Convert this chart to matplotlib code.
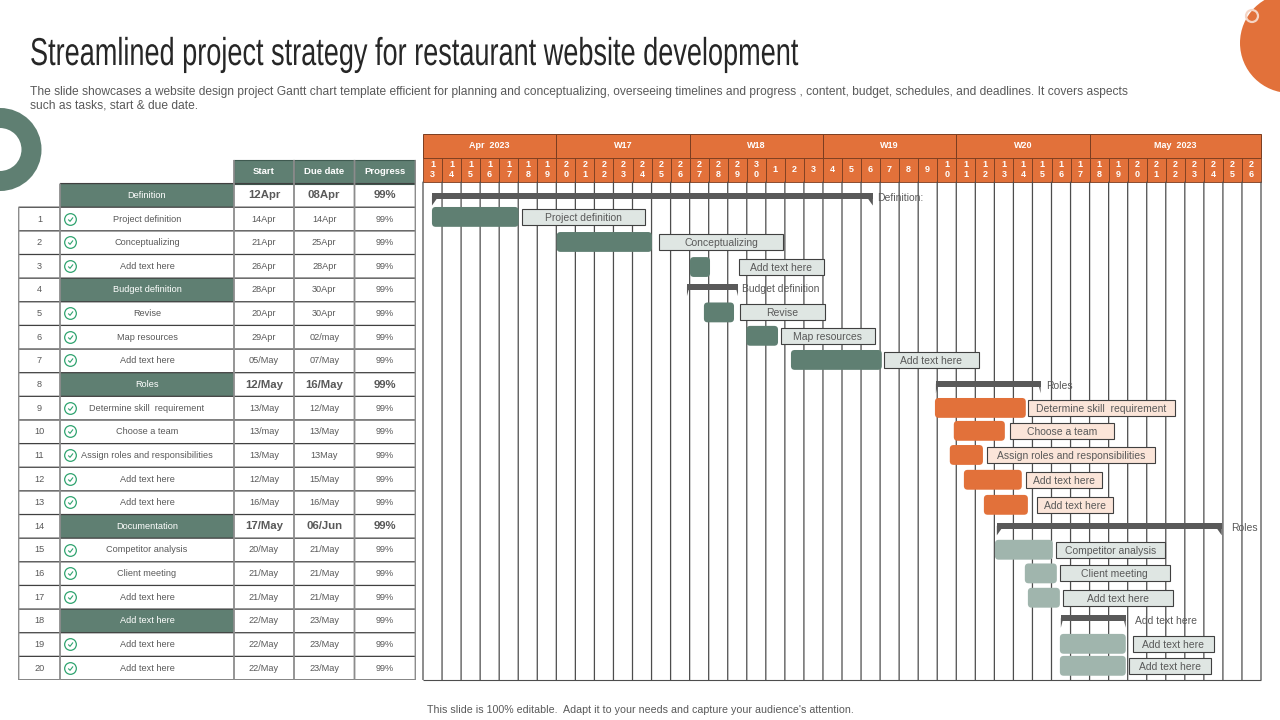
import matplotlib
matplotlib.use("Agg")
import matplotlib.pyplot as plt
from matplotlib.patches import Circle, FancyBboxPatch, Rectangle
from matplotlib.path import Path
from matplotlib.patheffects import AbstractPathEffect
from matplotlib.transforms import Affine2D

plt.rcParams['font.family'] = ['Liberation Sans', 'DejaVu Sans']

# table data
row_names = ["Definition", "Project definition", "Conceptualizing", "Add text here", "Budget definition",
             "Revise", "Map resources", "Add text here", "Roles", "Determine skill  requirement",
             "Choose a team", "Assign roles and responsibilities", "Add text here", "Add text here",
             "Documentation", "Competitor analysis", "Client meeting", "Add text here", "Add text here",
             "Add text here", "Add text here"]
row_start = ["12Apr", "14Apr", "21Apr", "26Apr", "28Apr", "20Apr", "29Apr", "05/May", "12/May", "13/May", "13/may",
             "13/May", "12/May", "16/May", "17/May", "20/May", "21/May", "21/May", "22/May", "22/May", "22/May"]
row_due = ["08Apr", "14Apr", "25Apr", "28Apr", "30Apr", "30Apr", "02/may", "07/May", "16/May", "12/May", "13/May",
           "13May", "15/May", "16/May", "06/Jun", "21/May", "21/May", "21/May", "23/May", "23/May", "23/May"]
row_progress = ["99%"] * 21
section_rows = [0, 4, 8, 14, 18]
bold_rows = [0, 8, 14]
table_heads = ["Start", "Due date", "Progress"]

# gantt header
period_names = ["Apr  2023", "W17", "W18", "W19", "W20", "May  2023"]
period_days = [7, 7, 7, 7, 7, 9]
day_labels = [13, 14, 15, 16, 17, 18, 19, 20, 21, 22, 23, 24, 25, 26, 27, 28, 29, 30,
              1, 2, 3, 4, 5, 6, 7, 8, 9, 10, 11, 12, 13, 14, 15, 16, 17, 18, 19, 20, 21, 22, 23, 24, 25, 26]

# gantt tasks, in days after 13 Apr
task_names = row_names[1:4] + row_names[5:8] + row_names[9:14] + row_names[15:18] + row_names[19:21]
task_begin = [0.47, 7.02, 14.02, 14.75, 16.98, 19.32, 26.88, 27.87, 27.66, 28.40, 29.45, 30.03, 31.60, 31.76, 33.44, 33.44]
task_end = [5.02, 12.02, 15.07, 16.33, 18.64, 24.09, 31.65, 30.55, 29.40, 31.44, 31.76, 33.07, 33.28, 33.44, 36.90, 36.90]
task_rows = [1.41, 2.47, 3.53, 5.45, 6.44, 7.46, 9.49, 10.46, 11.48, 12.53, 13.59, 15.49, 16.49, 17.52, 19.47, 20.40]
box_begin = [5.20, 12.39, 16.59, 16.64, 18.79, 24.20, 31.76, 30.81, 29.61, 31.65, 32.23, 33.23, 33.44, 33.60, 37.27, 37.06]
box_end = [11.65, 18.90, 21.05, 21.10, 23.73, 29.19, 39.48, 36.26, 38.43, 35.64, 36.22, 38.95, 39.21, 39.37, 41.52, 41.36]

# summary brackets
bracket_names = ["Definition:", "Budget definition", "Roles", "Roles", "Add text here"]
bracket_begin = [0.47, 13.86, 26.93, 30.13, 33.49]
bracket_end = [23.62, 16.54, 32.43, 41.94, 36.90]
bracket_rows = [0.53, 4.36, 8.47, 14.48, 18.39]
bracket_text = [23.83, 16.75, 32.70, 42.41, 37.40]

ORANGE = "#E2713A"
GREEN = "#5F7F72"
PALE_GREEN = "#A0B5AD"
GREY_TEXT = "#595959"
task_colors = [GREEN] * 6 + [ORANGE] * 5 + [PALE_GREEN] * 5
box_colors = ["#DFE6E3"] * 6 + ["#FBE5D9"] * 5 + ["#DFE6E3"] * 5


class Squeeze(AbstractPathEffect):
    # no condensed font is installed, so narrow the title glyphs around its left edge
    def __init__(self, factor, x_px):
        super().__init__()
        self.factor = factor
        self.x_px = x_px

    def draw_path(self, renderer, gc, tpath, affine, rgbFace=None):
        squeeze = Affine2D().translate(-self.x_px, 0).scale(self.factor, 1).translate(self.x_px, 0)
        renderer.draw_path(gc, tpath, affine + squeeze, rgbFace)


fig = plt.figure(figsize=(12.8, 7.2), dpi=100)

# page background, title and corner shapes
page = fig.add_axes([0, 0, 1, 1])
page.set_xlim(0, 1280)
page.set_ylim(720, 0)
page.axis("off")
page.add_patch(Circle((1290, 43), 50, color=ORANGE, lw=0))
page.add_patch(Circle((1252, 16), 6, fc="none", ec="#F5D5C5", lw=1.6))
page.add_patch(Circle((0, 149.5), 31.5, fc="none", ec=GREEN, lw=14.4))
page.text(30, 65, "Streamlined project strategy for restaurant website development",
          fontsize=28, color="#262626", path_effects=[Squeeze(0.697, 30)])
page.text(30, 92, "The slide showcases a website design project Gantt chart template efficient for planning and conceptualizing, "
          "overseeing timelines and progress , content, budget, schedules, and deadlines. It covers aspects",
          fontsize=8.65, color=GREY_TEXT, va="center")
page.text(30, 106, "such as tasks, start & due date.", fontsize=8.65, color=GREY_TEXT, va="center")
page.text(640, 710, "This slide is 100% editable.  Adapt it to your needs and capture your audience's attention.",
          fontsize=7.65, color=GREY_TEXT, ha="center", va="center")

# the table and the gantt share the same row scale
top_row = -2.097
bottom_row = 21
tbl = fig.add_axes([18 / 1280, 1 - 680 / 720, 398 / 1280, 546 / 720])
tbl.set_xlim(18, 416)
tbl.set_ylim(bottom_row, top_row)
tbl.axis("off")
col_edges = [18.5, 60, 234, 294, 354.5, 415.5]

for col, head in enumerate(table_heads):
    tbl.add_patch(Rectangle((col_edges[col + 2], -1), col_edges[col + 3] - col_edges[col + 2], 1, fc=GREEN, ec="#3F5A50", lw=0.8))
    tbl.text((col_edges[col + 2] + col_edges[col + 3]) / 2, -0.5, head, color="white", fontsize=6.8, fontweight="bold", ha="center", va="center")

for row, name in enumerate(row_names):
    mid = row + 0.5
    if row in section_rows:
        tbl.add_patch(Rectangle((col_edges[1], row), col_edges[2] - col_edges[1], 1, fc=GREEN, lw=0, zorder=1))
        tbl.text(147, mid, name, color="white", fontsize=6.6, ha="center", va="center", zorder=4)
    else:
        tbl.text(147, mid, name, color=GREY_TEXT, fontsize=6.6, ha="center", va="center", zorder=4)
    if row > 0:
        tbl.text(39.5, mid, str(row), color=GREY_TEXT, fontsize=6.6, ha="center", va="center")
    weight = "bold" if row in bold_rows else "normal"
    size = 8.2 if row in bold_rows else 6.6
    for col, val in enumerate([row_start[row], row_due[row], row_progress[row]]):
        tbl.text((col_edges[col + 2] + col_edges[col + 3]) / 2, mid, val, color=GREY_TEXT, fontsize=size,
                 fontweight=weight, ha="center", va="center")

tick_marker = Path([(-0.5, 0.0), (-0.1, -0.4), (0.55, 0.45)], [Path.MOVETO, Path.LINETO, Path.LINETO])
check_rows = [row + 0.48 for row in range(1, 21) if row not in section_rows]
tbl.plot([70.5] * len(check_rows), check_rows, ls="none", marker="o", ms=8.4, mfc="none", mec="#2FA36F", mew=0.9, zorder=4)
tbl.plot([70.5] * len(check_rows), check_rows, ls="none", marker=tick_marker, ms=3.6, mfc="none", mec="#2FA36F", mew=0.8, zorder=4)

tbl.hlines(range(1, 22), col_edges[0], col_edges[-1], color="#404040", lw=0.9, zorder=2).set_snap(False)
tbl.hlines(0, col_edges[1], col_edges[-1], color="#404040", lw=0.9, zorder=2).set_snap(False)
for idx, edge in enumerate(col_edges):
    first = 1 if idx == 0 else (0 if idx == 1 else -1)
    tbl.vlines(edge, first, bottom_row, color="#8C8C8C", lw=1.3, zorder=3).set_snap(False)

# gantt
ax = fig.add_axes([423 / 1280, 1 - 680 / 720, 838 / 1280, 546 / 720])
ax.set_xlim(0, len(day_labels))
ax.set_ylim(bottom_row, top_row)
ax.axis("off")

# header
month_line = -1.10
head_bottom = -0.08
left = 0
for name, days in zip(period_names, period_days):
    ax.add_patch(Rectangle((left, top_row), days, month_line - top_row, fc=ORANGE, ec="#7A3D20", lw=0.7, clip_on=False))
    ax.text(left + days / 2, (top_row + month_line) / 2, name, color="white", fontsize=6.5, fontweight="bold", ha="center", va="center")
    left += days
for pos, day in enumerate(day_labels):
    ax.add_patch(Rectangle((pos, month_line), 1, head_bottom - month_line, fc=ORANGE, ec="#7A3D20", lw=0.6, clip_on=False))
    ax.text(pos + 0.5, (month_line + head_bottom) / 2, "\n".join(str(day)), color="white", fontsize=6.5, fontweight="bold",
            ha="center", va="center", linespacing=1.15)

# day columns
grid = ax.vlines(range(len(day_labels) + 1), head_bottom, bottom_row, color="#4D4D4D", lw=0.9, zorder=1)
grid.set_snap(False)
grid.set_clip_on(False)
ax.hlines(bottom_row, 0, len(day_labels), color="#4D4D4D", lw=0.8, zorder=1).set_clip_on(False)

# task bars and their labels
bar_height = 0.84
box_height = 0.68
for i, name in enumerate(task_names):
    ax.add_patch(FancyBboxPatch((task_begin[i], task_rows[i] - bar_height / 2), task_end[i] - task_begin[i], bar_height,
                                boxstyle="round,pad=0,rounding_size=0.2", mutation_aspect=0.8,
                                fc=task_colors[i], lw=0, zorder=3))
    ax.add_patch(Rectangle((box_begin[i], task_rows[i] - box_height / 2), box_end[i] - box_begin[i], box_height,
                           fc=box_colors[i], ec="#404040", lw=0.8, zorder=3))
    ax.text((box_begin[i] + box_end[i]) / 2, task_rows[i] + 0.04, name, color=GREY_TEXT, fontsize=7.5, ha="center", va="center", zorder=4)

# summary brackets
bracket_h = 0.25
for i, name in enumerate(bracket_names):
    x0, x1, y = bracket_begin[i], bracket_end[i], bracket_rows[i]
    tip = 0.22 if x1 - x0 > 10 else 0.08
    ax.add_patch(Rectangle((x0, y - bracket_h / 2), x1 - x0, bracket_h, fc="#595959", lw=0, zorder=3))
    ax.fill([x0, x0 + tip * 1.6, x0], [y, y, y + bracket_h * 1.6], color="#595959", lw=0, zorder=3)
    ax.fill([x1, x1 - tip * 1.6, x1], [y, y, y + bracket_h * 1.6], color="#595959", lw=0, zorder=3)
    ax.text(bracket_text[i], y + 0.1, name, color=GREY_TEXT, fontsize=7.5, ha="left", va="center", zorder=4)

fig.savefig("out.png", dpi=100)
